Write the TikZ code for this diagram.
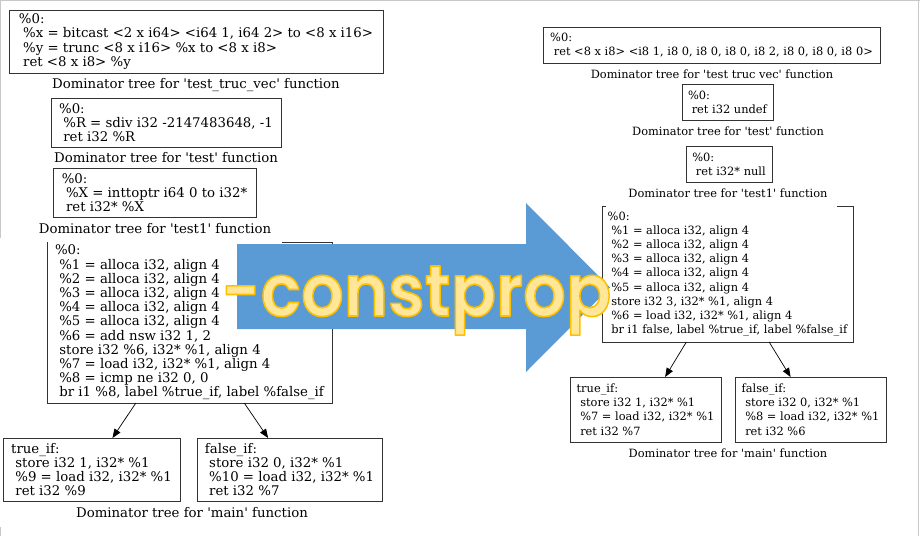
\documentclass[tikz,border=0pt]{standalone}
\usepackage{fontspec}
\usepackage{xcolor}
\usepackage{graphicx}
\usetikzlibrary{arrows.meta}
\newfontfamily\gvfont{DejaVu Serif}
\newfontfamily\bannerfont{Poppins}[UprightFont=*-SemiBold]
\definecolor{gvline}{HTML}{333333}
\definecolor{framegray}{HTML}{C8C8C8}
\definecolor{arrowblue}{HTML}{5B9BD5}
\definecolor{bannerfill}{HTML}{FFE699}
\newcommand{\gvind}{\hspace*{0.32em}}
\newcommand{\qt}{\textquotesingle}
\newcommand{\outlinetext}[1]{\special{pdf:literal direct 2 Tr 1.5 w 1 j 1 0.753 0 RG}#1\special{pdf:literal direct 0 Tr}}
\tikzset{
	block/.style={draw=gvline, line width=0.8pt, inner sep=0pt, outer sep=0pt, align=left,
			font=\gvfont\fontsize{13.3}{14.2}\selectfont},
	caption/.style={font=\gvfont\fontsize{13.3}{14.2}\selectfont, anchor=base, inner sep=0pt},
	after/.style={font=\gvfont\fontsize{11.4}{14.2}\selectfont},
	tree/.style={-{Triangle[length=9pt,width=7pt]}, draw=black, line width=0.7pt},
	banner/.style={font=\bannerfont\fontsize{67}{70}\selectfont, text=bannerfill, anchor=base, inner sep=0pt}
}
\begin{document}
\begin{tikzpicture}[x=1pt, y=-1pt]
		\useasboundingbox (0,0) rectangle (920,536);

		% before -constprop
		\node[block, minimum width=374, minimum height=63] (truncL) at (196,41.5) {\%0:\\
				\gvind\%x = bitcast <2 x i64> <i64 1, i64 2> to <8 x i16>\\
				\gvind\%y = trunc <8 x i16> \%x to <8 x i8>\\
				\gvind ret <8 x i8> \%y};
		\node[caption] (truncLcap) at (196,88) {Dominator tree for \qt test\_truc\_vec\qt{} function};

		\node[block, minimum width=230, minimum height=49] (testL) at (166,122.5) {\%0:\\
				\gvind\%R = sdiv i32 -2147483648, -1\\
				\gvind ret i32 \%R};
		\node[caption] (testLcap) at (166,162) {Dominator tree for \qt test\qt{} function};

		\node[block, minimum width=203, minimum height=49] (testoneL) at (154.5,192.5) {\%0:\\
				\gvind\%X = inttoptr i64 0 to i32*\\
				\gvind ret i32* \%X};
		\node[caption] (testoneLcap) at (155,233) {Dominator tree for \qt test1\qt{} function};

		\node[block, draw=none, minimum width=285, minimum height=161] (mainL) at (189.5,322.5) {\%0:\\
				\gvind\%1 = alloca i32, align 4\\
				\gvind\%2 = alloca i32, align 4\\
				\gvind\%3 = alloca i32, align 4\\
				\gvind\%4 = alloca i32, align 4\\
				\gvind\%5 = alloca i32, align 4\\
				\gvind\%6 = add nsw i32 1, 2\\
				\gvind store i32 \%6, i32* \%1, align 4\\
				\gvind\%7 = load i32, i32* \%1, align 4\\
				\gvind\%8 = icmp ne i32 0, 0\\
				\gvind br i1 \%8, label \%true\_if, label \%false\_if};
		\draw[gvline, line width=0.8pt] (282,242) -- (mainL.north east) -- (mainL.south east)
			-- (mainL.south west) -- (mainL.north west);

		\node[block, minimum width=177, minimum height=63] (trueL) at (91.5,469.5) {true\_if:\\
				\gvind store i32 1, i32* \%1\\
				\gvind\%9 = load i32, i32* \%1\\
				\gvind ret i32 \%9};
		\node[block, minimum width=185, minimum height=63] (falseL) at (289.5,469.5) {false\_if:\\
				\gvind store i32 0, i32* \%1\\
				\gvind\%10 = load i32, i32* \%1\\
				\gvind ret i32 \%7};
		\node[caption] (mainLcap) at (192,517) {Dominator tree for \qt main\qt{} function};

		\draw[tree] (mainL) -- (trueL);
		\draw[tree] (mainL) -- (falseL);

		% after -constprop
		\node[block, after, minimum width=337, minimum height=36] (truncR) at (711.5,45) {\%0:\\
				\gvind ret <8 x i8> <i8 1, i8 0, i8 0, i8 0, i8 2, i8 0, i8 0, i8 0>};
		\node[caption, after] (truncRcap) at (712,78) {Dominator tree for \qt test truc vec\qt{} function};

		\node[block, after, minimum width=91, minimum height=36] (testR) at (727.5,102) {\%0:\\
				\gvind ret i32 undef};
		\node[caption, after] (testRcap) at (728,135) {Dominator tree for \qt test\qt{} function};

		\node[block, after, minimum width=86, minimum height=36] (testoneR) at (729,164) {\%0:\\
				\gvind ret i32* null};
		\node[caption, after] (testoneRcap) at (728,197) {Dominator tree for \qt test1\qt{} function};

		\node[block, after, draw=none, minimum width=251, minimum height=136] (mainR) at (727.5,274) {\%0:\\
				\gvind\%1 = alloca i32, align 4\\
				\gvind\%2 = alloca i32, align 4\\
				\gvind\%3 = alloca i32, align 4\\
				\gvind\%4 = alloca i32, align 4\\
				\gvind\%5 = alloca i32, align 4\\
				\gvind store i32 3, i32* \%1, align 4\\
				\gvind\%6 = load i32, i32* \%1, align 4\\
				\gvind br i1 false, label \%true\_if, label \%false\_if};
		\draw[gvline, line width=0.8pt] (606,206) -- (mainR.north west) -- (mainR.south west)
			-- (mainR.south east) -- (mainR.north east) -- (837,206);

		\node[block, after, minimum width=151, minimum height=65] (trueR) at (645.5,409.5) {true\_if:\\
				\gvind store i32 1, i32* \%1\\
				\gvind\%7 = load i32, i32* \%1\\
				\gvind ret i32 \%7};
		\node[block, after, minimum width=151, minimum height=65] (falseR) at (810.5,409.5) {false\_if:\\
				\gvind store i32 0, i32* \%1\\
				\gvind\%8 = load i32, i32* \%1\\
				\gvind ret i32 \%6};
		\node[caption, after] (mainRcap) at (728,457) {Dominator tree for \qt main\qt{} function};

		\draw[tree] (mainR) -- (trueR);
		\draw[tree] (mainR) -- (falseR);

		% screenshot frame
		\draw[framegray, line width=1pt] (0,0.5) -- (920,0.5);
		\draw[framegray, line width=1pt] (918.5,0) -- (918.5,536);
		\draw[framegray, line width=1pt] (0.5,0) -- (0.5,238);
		\draw[framegray, line width=1pt] (0.5,527) -- (0.5,536);

		% big arrow
		\fill[arrowblue] (237,244) -- (526,244) -- (526,203) -- (610,287.5) -- (526,372)
			-- (526,329) -- (237,329) -- cycle;
		\node[banner] (constprop) at (416.5,316) {\scalebox{1}[1.08]{\outlinetext{-constprop}}};
	\end{tikzpicture}
\end{document}
